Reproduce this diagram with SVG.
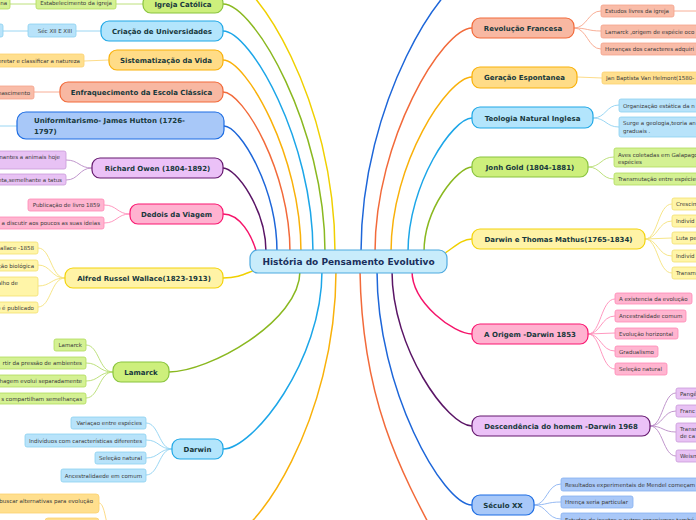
<svg xmlns="http://www.w3.org/2000/svg" width="696" height="520" viewBox="0 0 696 520">
<style>
text{font-family:"DejaVu Sans",Verdana,sans-serif}
.mt{font-size:7px;font-weight:bold;fill:#17383c;text-anchor:middle}
.rt{font-size:9px;font-weight:bold;fill:#1a2f5c;text-anchor:middle}
.lt{font-size:5.5px;fill:#3a3a3a}
.le{text-anchor:end}
.c{fill:none;stroke-width:1.5}
.lc{fill:none;stroke-width:0.9}
.m{stroke-width:1.2}
.l{stroke-width:0.8}
.gM{fill:#cdef7c;stroke:#8ac43f}.gL{fill:#d4f193;stroke:#b0dc5c}
.bM{fill:#b3e5fc;stroke:#20a8e6}.bL{fill:#b8e3fa;stroke:#8bd0f0}
.oM{fill:#ffdc87;stroke:#f9b10a}.oL{fill:#ffdf8e;stroke:#fbd070}
.sM{fill:#f8b8a2;stroke:#f26a3a}.sL{fill:#f9bca8;stroke:#f5a28a}
.dM{fill:#a8c8f8;stroke:#1d6de3}.dL{fill:#a9c8f8;stroke:#86b0f0}
.pM{fill:#ebc1f7;stroke:#65196e}.pL{fill:#e8c2f4;stroke:#c99ad9}
.kM{fill:#ffb2d0;stroke:#fa1670}.kL{fill:#ffb5d0;stroke:#ff88b5}
.yM{fill:#fff3a6;stroke:#f3d30c}.yL{fill:#fff5a8;stroke:#f3df70}
</style>
<g id="connectors">
<path class="c" stroke="#8ab820" d="M223,4 C254,4 325,127 325,252"/>
<path class="c" stroke="#1ca6e8" d="M223,31 C250,31 313,140 313,252"/>
<path class="c" stroke="#f9b10a" d="M223,60 C246,60 301,155 301,252"/>
<path class="c" stroke="#f26a3a" d="M223,92 C243,92 290,171 290,252"/>
<path class="c" stroke="#1d66d9" d="M224,126 C240,126 277,188 277,252"/>
<path class="c" stroke="#5a1566" d="M223,168 C236,168 266,209 266,252"/>
<path class="c" stroke="#f5146a" d="M223,214 C240,214 252,235 257,254"/>
<path class="c" stroke="#f0d000" d="M223,278 C240,278 246,273 258,269"/>
<path class="c" stroke="#8ab820" d="M169,372 C208,372 300,322 300,271"/>
<path class="c" stroke="#1ca6e8" d="M223,449 C253,449 322,361 322,271"/>
<path class="c" stroke="#f0d000" d="M223,-25 C255,-25 335,100 335,252"/>
<path class="c" stroke="#f9b10a" d="M223,540 C255,540 336,420 336,271"/>
<path class="c" stroke="#f26a3a" d="M472,28 C443,28 375,139 375,252"/>
<path class="c" stroke="#f9b10a" d="M472,77 C448,77 391,163 391,252"/>
<path class="c" stroke="#1ca6e8" d="M472,118 C453,118 408,184 408,252"/>
<path class="c" stroke="#8ab820" d="M472,167 C458,167 424,208 424,252"/>
<path class="c" stroke="#f0d000" d="M472,239 C460,239 452,250 440,256"/>
<path class="c" stroke="#f5146a" d="M472,334 C454,334 412,303 412,271"/>
<path class="c" stroke="#5a1566" d="M472,426 C448,426 392,349 392,271"/>
<path class="c" stroke="#1d66d9" d="M472,505 C443,505 377,389 377,271"/>
<path class="c" stroke="#1d66d9" d="M472,-25 C445,-25 361,100 361,252"/>
<path class="c" stroke="#f26a3a" d="M360,271 C362,400 400,470 440,545"/>
<!-- leaf connectors left -->
<path class="lc" stroke="#b5dc6e" d="M143,4 L116,4 M36,4 L10,4"/>
<path class="lc" stroke="#8fd1f2" d="M101,31 L76,31 M28,31 L3,31"/>
<path class="lc" stroke="#fcd77a" d="M109,60 L84,61"/>
<path class="lc" stroke="#f7a58a" d="M60,92 L34,92"/>
<path class="lc" stroke="#8fd1f2" d="M17,126 L-5,126"/>
<path class="lc" stroke="#b98ac6" d="M92,168 C79,168 79,160 66,160 M92,168 C79,168 79,180 66,180"/>
<path class="lc" stroke="#ff8cb8" d="M130,214 C117,214 117,205 104,205 M130,214 C117,214 117,223 104,223"/>
<path class="lc" stroke="#f5e27a" d="M65,278 C51,278 51,248 38,248 M65,278 C51,278 51,265 38,265 M65,278 C51,278 51,286 38,286 M65,278 C51,278 51,307 38,307"/>
<path class="lc" stroke="#b5dc6e" d="M113,372 C99,372 99,345 86,345 M113,372 C99,372 99,363 86,363 M113,372 C99,372 99,381 86,381 M113,372 C99,372 99,398 86,398"/>
<path class="lc" stroke="#8fd1f2" d="M172,449 C159,449 159,423 146,423 M172,449 C159,449 159,440 146,440 M172,449 C159,449 159,458 146,458 M172,449 C159,449 159,475 146,475"/>
<path class="lc" stroke="#fcd77a" d="M99,503 C106,503 106,535 113,535 M99,524 C106,524 106,535 113,535"/>
<!-- leaf connectors right -->
<path class="lc" stroke="#f7a58a" d="M574,28 C587,28 588,11 601,11 M574,28 C587,28 588,31 601,31 M574,28 C587,28 588,49 601,49 M674,11 L700,11"/>
<path class="lc" stroke="#fcd77a" d="M577,77 L602,78"/>
<path class="lc" stroke="#8fd1f2" d="M593,118 C606,118 606,105 619,105 M593,118 C606,118 606,127 619,127"/>
<path class="lc" stroke="#b5dc6e" d="M588,167 C601,167 601,157 614,157 M588,167 C601,167 601,179 614,179"/>
<path class="lc" stroke="#f5e27a" d="M645,239 C658,239 658,204 672,204 M645,239 C658,239 658,221 672,221 M645,239 L672,238 M645,239 C658,239 658,256 672,256 M645,239 C658,239 658,273 672,273"/>
<path class="lc" stroke="#ff8cb8" d="M588,334 C601,334 601,299 615,299 M588,334 C601,334 601,316 615,316 M588,334 L615,333 M588,334 C601,334 601,351 615,351 M588,334 C601,334 601,369 615,369"/>
<path class="lc" stroke="#b98ac6" d="M650,426 C663,426 663,393 676,393 M650,426 C663,426 663,411 676,411 M650,426 C663,426 663,432 676,432 M650,426 C663,426 663,456 676,456"/>
<path class="lc" stroke="#8ab2f2" d="M534,505 C547,505 547,484 561,484 M534,505 C547,505 547,502 561,502 M534,505 C547,505 547,519 561,519"/>
</g>
<g id="root">
<rect x="250" y="250" width="197" height="23" rx="8" fill="#c8ecfb" stroke="#4da9df" stroke-width="1.2"/>
<text class="rt" x="348.5" y="264.5">História do Pensamento Evolutivo</text>
</g>
<g id="igreja">
<rect class="gM m" x="143" y="-5" width="80" height="18" rx="8"/>
<text class="mt" x="183" y="6.5">Igreja Católica</text>
<rect class="gL l" x="36" y="-3" width="80" height="12" rx="2"/>
<text class="lt le" x="112" y="5">Estabelecimento da igreja</text>
<rect class="gL l" x="-30" y="-3" width="40" height="12" rx="2"/>
<text class="lt le" x="7" y="5">na</text>
</g>
<g id="universidades">
<rect class="bM m" x="101" y="21" width="122" height="20" rx="8"/>
<text class="mt" x="162" y="33.5">Criação de Universidades</text>
<rect class="bL l" x="28" y="24" width="48" height="13" rx="2"/>
<text class="lt le" x="72" y="32.5">Séc XII E XIII</text>
<rect class="bL l" x="-40" y="24" width="43" height="13" rx="2"/>
</g>
<g id="sistematizacao">
<rect class="oM m" x="109" y="50" width="114" height="20" rx="8"/>
<text class="mt" x="166" y="62.5">Sistematização da Vida</text>
<rect class="oL l" x="-20" y="54" width="104" height="13" rx="2"/>
<text class="lt le" x="80" y="62.5">eretar e classificar a natureza</text>
</g>
<g id="enfraquecimento">
<rect class="sM m" x="60" y="82" width="163" height="20" rx="8"/>
<text class="mt" x="141.5" y="94.5">Enfraquecimento da Escola Clássica</text>
<rect class="sL l" x="-20" y="86" width="54" height="13" rx="2"/>
<text class="lt le" x="30" y="94.5">nascimento</text>
</g>
<g id="uniformitarismo">
<rect class="dM m" x="17" y="112" width="207" height="27" rx="9"/>
<text class="mt" x="34" y="123" style="text-anchor:start">Uniformitarismo- James Hutton (1726-</text>
<text class="mt" x="34" y="134" style="text-anchor:start">1797)</text>
</g>
<g id="owen">
<rect class="pM m" x="92" y="158" width="131" height="20" rx="8"/>
<text class="mt" x="157.5" y="170.5">Richard Owen (1804-1892)</text>
<rect class="pL l" x="-20" y="151" width="86" height="18" rx="2"/>
<text class="lt le" x="60" y="158.5">mantes a animais hoje</text>
<rect class="pL l" x="-20" y="174" width="86" height="11" rx="2"/>
<text class="lt le" x="62" y="181.5">nta,semelhante a tatus</text>
</g>
<g id="dedois">
<rect class="kM m" x="130" y="204" width="93" height="20" rx="8"/>
<text class="mt" x="176.5" y="216.5">Dedois da Viagem</text>
<rect class="kL l" x="28" y="199" width="76" height="12" rx="2"/>
<text class="lt le" x="100" y="207">Publicação de livro 1859</text>
<rect class="kL l" x="-20" y="217" width="124" height="12" rx="2"/>
<text class="lt le" x="100" y="225">a discutir aos poucos as suas ideias</text>
</g>
<g id="wallace">
<rect class="yM m" x="65" y="268" width="158" height="20" rx="8"/>
<text class="mt" x="144" y="280.5">Alfred Russel Wallace(1823-1913)</text>
<rect class="yL l" x="-20" y="242" width="58" height="12" rx="2"/>
<text class="lt le" x="34" y="250">allace -1858</text>
<rect class="yL l" x="-20" y="260" width="58" height="11" rx="2"/>
<text class="lt le" x="34" y="267.5">ção biológica</text>
<rect class="yL l" x="-20" y="277" width="58" height="19" rx="2"/>
<text class="lt le" x="18" y="285">alho de</text>
<rect class="yL l" x="-20" y="302" width="58" height="11" rx="2"/>
<text class="lt le" x="34" y="309.5">o é publicado</text>
</g>
<g id="lamarck">
<rect class="gM m" x="113" y="362" width="56" height="20" rx="8"/>
<text class="mt" x="141" y="374.5">Lamarck</text>
<rect class="gL l" x="54" y="339" width="32" height="12" rx="2"/>
<text class="lt le" x="82" y="347">Lamarck</text>
<rect class="gL l" x="-20" y="357" width="106" height="12" rx="2"/>
<text class="lt le" x="82" y="365">rtir da pressão de ambientes</text>
<rect class="gL l" x="-20" y="375" width="106" height="12" rx="2"/>
<text class="lt le" x="82" y="383">nhagem evolui separadamente</text>
<rect class="gL l" x="-20" y="393" width="106" height="11" rx="2"/>
<text class="lt le" x="82" y="400.5">s compartilham semelhanças</text>
</g>
<g id="darwin">
<rect class="bM m" x="172" y="439" width="51" height="20" rx="8"/>
<text class="mt" x="197.5" y="451.5">Darwin</text>
<rect class="bL l" x="71" y="417" width="75" height="12" rx="2"/>
<text class="lt le" x="142" y="425">Variaçao entre espécies</text>
<rect class="bL l" x="25" y="434" width="121" height="13" rx="2"/>
<text class="lt le" x="142" y="442.5">Indivíduos com características diferentes</text>
<rect class="bL l" x="95" y="452" width="51" height="12" rx="2"/>
<text class="lt le" x="142" y="460">Seleção natural</text>
<rect class="bL l" x="61" y="469" width="85" height="13" rx="2"/>
<text class="lt le" x="142" y="477.5">Ancestralidaede em comum</text>
</g>
<g id="alternativas">
<rect class="oL l" x="-20" y="494" width="119" height="19" rx="3"/>
<text class="lt le" x="93" y="502.5">buscar alternativas para evolução</text>
<rect class="oL l" x="45" y="518" width="54" height="14" rx="3"/>
</g>
<g id="revolucao">
<rect class="sM m" x="472" y="18" width="102" height="20" rx="8"/>
<text class="mt" x="523" y="30.5">Revolução Francesa</text>
<rect class="sL l" x="601" y="5" width="73" height="12" rx="2"/>
<text class="lt" x="605" y="13">Estudos livres da igreja</text>
<rect class="sL l" x="601" y="25" width="105" height="13" rx="2"/>
<text class="lt" x="605" y="33.5">Lamarck ,origem de espécie oco</text>
<rect class="sL l" x="601" y="43" width="105" height="12" rx="2"/>
<text class="lt" x="605" y="51">Heranças dos caracteres adquiri</text>
</g>
<g id="geracao">
<rect class="oM m" x="472" y="67" width="105" height="21" rx="8"/>
<text class="mt" x="524.5" y="80">Geração Espontanea</text>
<rect class="oL l" x="602" y="72" width="105" height="12" rx="2"/>
<text class="lt" x="606" y="80">Jan Baptista Van Helmont(1580-</text>
</g>
<g id="teologia">
<rect class="bM m" x="472" y="107" width="121" height="21" rx="8"/>
<text class="mt" x="532.5" y="120.5">Teologia Natural Inglesa</text>
<rect class="bL l" x="619" y="99" width="90" height="13" rx="2"/>
<text class="lt" x="623" y="107.5">Organização estática da n</text>
<rect class="bL l" x="619" y="117" width="90" height="20" rx="2"/>
<text class="lt" x="623" y="125">Surge a geologia,teoria an</text>
<text class="lt" x="623" y="132.5">graduais .</text>
</g>
<g id="gold">
<rect class="gM m" x="472" y="157" width="116" height="20" rx="8"/>
<text class="mt" x="530" y="169.5">Jonh Gold (1804-1881)</text>
<rect class="gL l" x="614" y="148" width="90" height="19" rx="2"/>
<text class="lt" x="618" y="156.5">Aves coletadas em Galapago</text>
<text class="lt" x="618" y="163.5">espécies</text>
<rect class="gL l" x="614" y="173" width="90" height="12" rx="2"/>
<text class="lt" x="618" y="181">Transmutação entre espécie</text>
</g>
<g id="mathus">
<rect class="yM m" x="472" y="229" width="173" height="20" rx="8"/>
<text class="mt" x="558.5" y="241.5">Darwin e Thomas Mathus(1765-1834)</text>
<rect class="yL l" x="672" y="198" width="40" height="12" rx="2"/>
<text class="lt" x="676" y="206">Crescim</text>
<rect class="yL l" x="672" y="215" width="40" height="12" rx="2"/>
<text class="lt" x="676" y="223">Indivíd</text>
<rect class="yL l" x="672" y="232" width="40" height="12" rx="2"/>
<text class="lt" x="676" y="240">Luta pe</text>
<rect class="yL l" x="672" y="250" width="40" height="12" rx="2"/>
<text class="lt" x="676" y="258">Indivíd</text>
<rect class="yL l" x="672" y="267" width="40" height="12" rx="2"/>
<text class="lt" x="676" y="275">Transm</text>
</g>
<g id="origem">
<rect class="kM m" x="472" y="324" width="116" height="20" rx="8"/>
<text class="mt" x="530" y="336.5">A Origem -Darwin 1853</text>
<rect class="kL l" x="615" y="293" width="77" height="11" rx="2"/>
<text class="lt" x="619" y="300.5">A existencia da evolução</text>
<rect class="kL l" x="615" y="310" width="71" height="12" rx="2"/>
<text class="lt" x="619" y="318">Ancestralidade comum</text>
<rect class="kL l" x="615" y="328" width="63" height="11" rx="2"/>
<text class="lt" x="619" y="335.5">Evolução horizontal</text>
<rect class="kL l" x="615" y="346" width="43" height="11" rx="2"/>
<text class="lt" x="619" y="353.5">Gradualismo</text>
<rect class="kL l" x="615" y="363" width="52" height="12" rx="2"/>
<text class="lt" x="619" y="371">Seleção natural</text>
</g>
<g id="descendencia">
<rect class="pM m" x="472" y="416" width="178" height="20" rx="8"/>
<text class="mt" x="561" y="428.5">Descendência do homem -Darwin 1968</text>
<rect class="pL l" x="676" y="388" width="40" height="11" rx="2"/>
<text class="lt" x="680" y="395.5">Pangê</text>
<rect class="pL l" x="676" y="405" width="40" height="12" rx="2"/>
<text class="lt" x="680" y="413">Franc</text>
<rect class="pL l" x="676" y="423" width="40" height="19" rx="2"/>
<text class="lt" x="680" y="430.5">Transm</text>
<text class="lt" x="680" y="438">de ca</text>
<rect class="pL l" x="676" y="450" width="40" height="12" rx="2"/>
<text class="lt" x="680" y="458">Weism</text>
</g>
<g id="seculo">
<rect class="dM m" x="472" y="495" width="62" height="20" rx="8"/>
<text class="mt" x="503" y="507.5">Século XX</text>
<rect class="dL l" x="561" y="478" width="140" height="13" rx="2"/>
<text class="lt" x="565" y="486.5">Resultados experimentais de Mendel começam</text>
<rect class="dL l" x="561" y="496" width="72" height="12" rx="2"/>
<text class="lt" x="565" y="504">Hrença seria particular</text>
<rect class="dL l" x="561" y="513" width="140" height="13" rx="2"/>
<text class="lt" x="565" y="521.5">Estudos de insetos e outros organismos també</text>
</g>
</svg>
